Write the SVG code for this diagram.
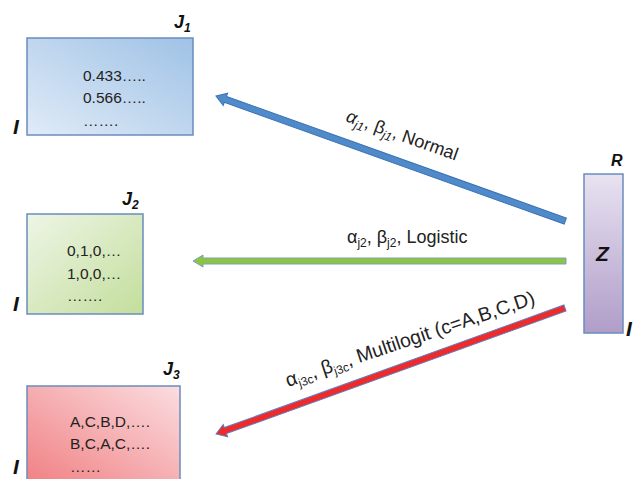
<svg xmlns="http://www.w3.org/2000/svg" width="636" height="479" viewBox="0 0 636 479">
<defs>
<linearGradient id="gBlue" x1="0" y1="1" x2="1" y2="0">
<stop offset="0" stop-color="#e0ebf7"/><stop offset="1" stop-color="#9fc2e6"/>
</linearGradient>
<linearGradient id="gGreen" x1="0" y1="0" x2="1" y2="1">
<stop offset="0" stop-color="#eef5e6"/><stop offset="1" stop-color="#c3de9c"/>
</linearGradient>
<linearGradient id="gRed" x1="0" y1="1" x2="1" y2="0">
<stop offset="0" stop-color="#f07f82"/><stop offset="1" stop-color="#fbdde0"/>
</linearGradient>
<linearGradient id="gPurple" x1="0" y1="0" x2="0" y2="1">
<stop offset="0" stop-color="#e8e2f0"/><stop offset="1" stop-color="#b09dc9"/>
</linearGradient>
</defs>
<style>
.box{stroke:#6a8cbf;stroke-width:1.5}
.t{font-family:"Liberation Sans",Arial,sans-serif;font-size:15.5px;fill:#222}
.dim{font-family:"Liberation Sans",Arial,sans-serif;font-size:18px;font-weight:bold;font-style:italic;fill:#111}
.big{font-size:21px}
.sub{font-size:12px}
.lab{font-family:"Liberation Sans",Arial,sans-serif;font-size:18px;fill:#222}
</style>

<g id="J1">
<rect class="box" x="27" y="38" width="166" height="97" fill="url(#gBlue)"/>
<text class="t" x="83" y="81">0.433…..</text>
<text class="t" x="83" y="103">0.566…..</text>
<text class="t" x="83" y="126">…….</text>
<text class="dim" x="174" y="28">J<tspan class="sub" dy="4">1</tspan></text>
<text class="dim big" x="13" y="134">I</text>
</g>

<g id="J2">
<rect class="box" x="27" y="214" width="116" height="100" fill="url(#gGreen)"/>
<text class="t" x="67" y="256">0,1,0,…</text>
<text class="t" x="67" y="279">1,0,0,…</text>
<text class="t" x="67" y="301">…….</text>
<text class="dim" x="122" y="205">J<tspan class="sub" dy="4">2</tspan></text>
<text class="dim big" x="13" y="311">I</text>
</g>

<g id="J3">
<rect class="box" x="27" y="386" width="153" height="100" fill="url(#gRed)"/>
<text class="t" x="70" y="427">A,C,B,D,….</text>
<text class="t" x="70" y="449">B,C,A,C,….</text>
<text class="t" x="70" y="472">……</text>
<text class="dim" x="163" y="375">J<tspan class="sub" dy="4">3</tspan></text>
<text class="dim big" x="13" y="474">I</text>
</g>

<g id="Z">
<rect class="box" x="584" y="174" width="39" height="159" fill="url(#gPurple)"/>
<text class="dim" x="596" y="261" style="font-size:21px">Z</text>
<text class="dim" x="611" y="166" style="font-size:16px">R</text>
<text class="dim big" x="626" y="336">I</text>
</g>

<g id="connectors" stroke-width="1" stroke-linejoin="miter">
<polygon transform="translate(216,96) rotate(19.7)" points="0,0 10,-6.5 10,-3.2 371,-3.2 371,3.2 10,3.2 10,6.5" fill="#4f8acb" stroke="#3d72b0"/>
<polygon transform="translate(193,261)" points="0,0 10,-6 10,-3 373,-3 373,3 10,3 10,6" fill="#8cc63f" stroke="#7f9bc8"/>
<polygon transform="translate(216,434) rotate(-19.85)" points="0,0 10,-6.5 10,-3.2 371,-3.2 371,3.2 10,3.2 10,6.5" fill="#ee2a2a" stroke="#5a7fc0"/>
</g>

<g id="labels">
<text class="lab" transform="translate(345,121) rotate(19.7)"><tspan font-style="italic">α</tspan><tspan class="sub" dy="4" font-style="italic">j1</tspan><tspan dy="-4">, β</tspan><tspan class="sub" dy="4" font-style="italic">j1</tspan><tspan dy="-4">, Normal</tspan></text>
<text class="lab" x="347" y="243">α<tspan class="sub" dy="4">j2</tspan><tspan dy="-4">, β</tspan><tspan class="sub" dy="4">j2</tspan><tspan dy="-4">, Logistic</tspan></text>
<text class="lab" transform="translate(288,387) rotate(-18.6)" style="font-size:19.5px">α<tspan class="sub" dy="4">j3c</tspan><tspan dy="-4">, β</tspan><tspan class="sub" dy="4">j3c</tspan><tspan dy="-4">, Multilogit (c=A,B,C,D)</tspan></text>
</g>
</svg>
